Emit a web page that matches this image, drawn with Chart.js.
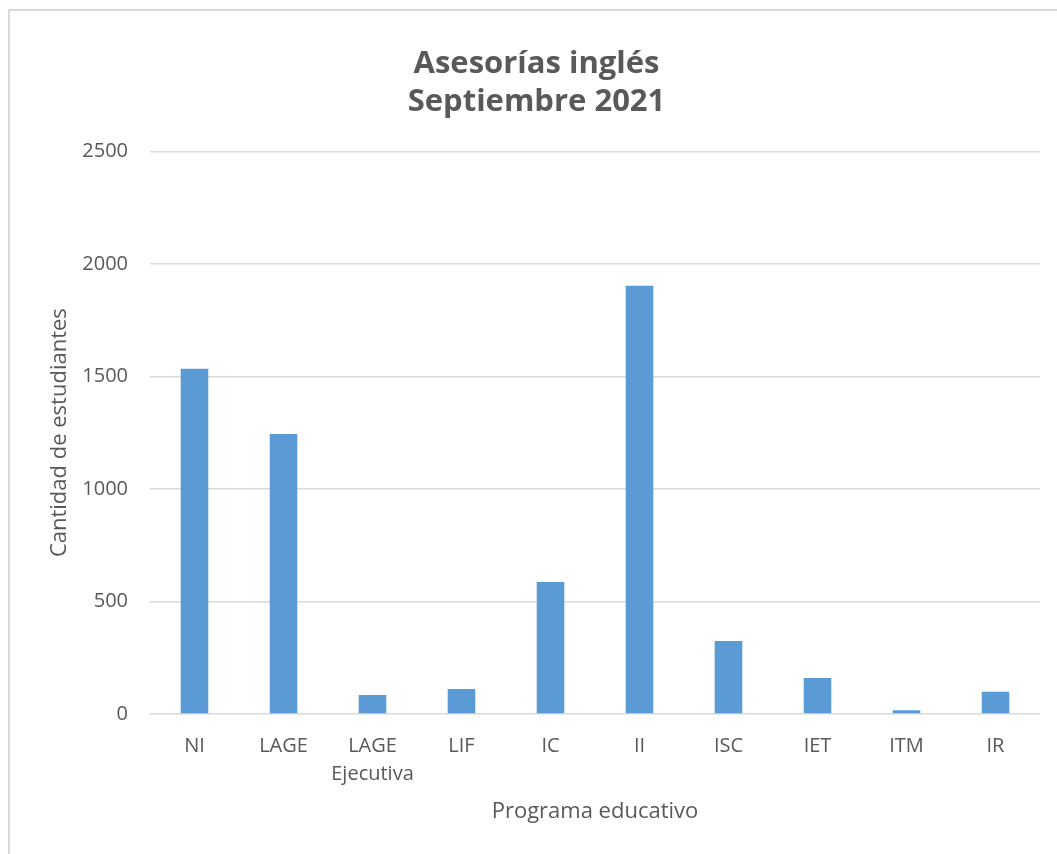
<!DOCTYPE html>
<html>
<head>
<meta charset="utf-8">
<script src="https://cdn.jsdelivr.net/npm/chart.js@4"></script>
<style>
  html, body { margin: 0; padding: 0; background: #ffffff; }
  #wrap { position: relative; width: 1057px; height: 854px; overflow: hidden; }
  #frame { position: absolute; left: 8px; top: 9px; width: 1100px; height: 900px;
           border-left: 2px solid #d9d9d9; border-top: 2px solid #d9d9d9; box-sizing: border-box; }
  canvas { position: absolute; left: 0; top: 0; }
</style>
</head>
<body>
<div id="wrap">
  <div id="frame"></div>
  <canvas id="c" width="1057" height="854"></canvas>
</div>
<script>
const titleLines = ['Asesorías inglés', 'Septiembre 2021'];
const categories = ['NI', 'LAGE', ['LAGE', 'Ejecutiva'], 'LIF', 'IC', 'II', 'ISC', 'IET', 'ITM', 'IR'];
const students = [1534, 1244, 84, 111, 586, 1903, 324, 160, 17, 99];
const yTicks = [0, 500, 1000, 1500, 2000, 2500];
const xTitle = 'Programa educativo';
const yTitle = 'Cantidad de estudiantes';

const textColor = '#595959';
const gridColor = '#d9d9d9';
const fontFamily = '"Open Sans", "Noto Sans", sans-serif';

new Chart(document.getElementById('c'), {
  type: 'bar',
  data: {
    labels: categories,
    datasets: [{
      data: students,
      backgroundColor: '#5b9bd5',
      borderWidth: 0,
      categoryPercentage: 1,
      barPercentage: 0.31
    }]
  },
  options: {
    responsive: false,
    animation: false,
    layout: { padding: { left: 33, right: 17, top: 0, bottom: 29 } },
    plugins: {
      legend: { display: false },
      tooltip: { enabled: false },
      title: {
        display: true,
        text: titleLines,
        color: textColor,
        font: { family: fontFamily, size: 31, weight: 'bold', lineHeight: 1.23 },
        padding: { top: 45, bottom: 30 }
      }
    },
    scales: {
      x: {
        grid: { display: false, drawTicks: false },
        border: { display: false },
        ticks: {
          color: textColor,
          font: { family: fontFamily, size: 20, lineHeight: 1.4 },
          padding: 18,
          maxRotation: 0,
          autoSkip: false
        },
        title: {
          display: true,
          text: xTitle,
          color: textColor,
          font: { family: fontFamily, size: 22, lineHeight: 1.2 },
          padding: { top: 0, bottom: 0 }
        },
        afterFit: (scale) => { scale.height = 111; }
      },
      y: {
        min: 0,
        max: 2500,
        afterBuildTicks: (scale) => { scale.ticks = yTicks.map(v => ({ value: v })); },
        grid: { color: gridColor, lineWidth: 1.5, drawTicks: false },
        border: { display: false },
        ticks: {
          color: textColor,
          font: { family: fontFamily, size: 20 },
          padding: 22,
          callback: (v) => String(v)
        },
        title: {
          display: true,
          text: yTitle,
          color: textColor,
          font: { family: fontFamily, size: 22, lineHeight: 1.2 },
          padding: { top: 14, bottom: 0 }
        },
        afterFit: (scale) => { scale.width = 117; }
      }
    }
  }
});
</script>
</body>
</html>
